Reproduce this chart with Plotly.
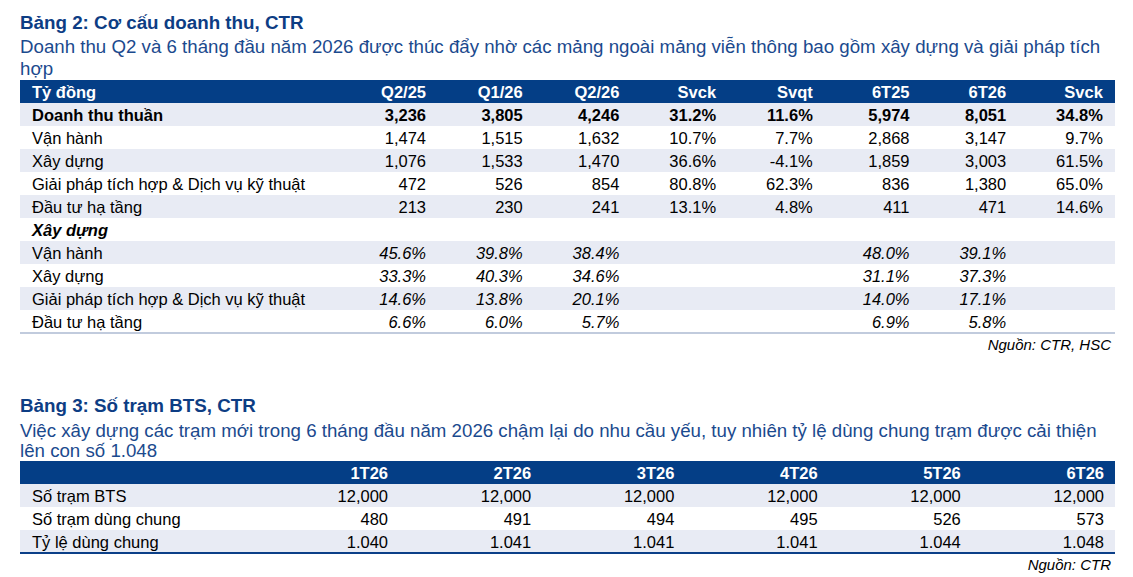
import plotly.graph_objects as go

# ---------------- data: Bảng 2 ----------------
t2_title = "Bảng 2: Cơ cấu doanh thu, CTR"
t2_subtitle = [
    "Doanh thu Q2 và 6 tháng đầu năm 2026 được thúc đẩy nhờ các mảng ngoài mảng viễn thông bao gồm xây dựng và giải pháp tích",
    "hợp",
]
t2_unit = "Tỷ đồng"
t2_columns = ["Q2/25", "Q1/26", "Q2/26", "Svck", "Svqt", "6T25", "6T26", "Svck"]
t2_total_label = "Doanh thu thuần"
t2_segments = ["Vận hành", "Xây dựng", "Giải pháp tích hợp & Dịch vụ kỹ thuật", "Đầu tư hạ tầng"]
t2_share_label = "Xây dựng"

# revenue rows: total first, then the four segments
rev_q2_25 = [3236, 1474, 1076, 472, 213]
rev_q1_26 = [3805, 1515, 1533, 526, 230]
rev_q2_26 = [4246, 1632, 1470, 854, 241]
rev_svck_q = [31.2, 10.7, 36.6, 80.8, 13.1]
rev_svqt = [11.6, 7.7, -4.1, 62.3, 4.8]
rev_6t25 = [5974, 2868, 1859, 836, 411]
rev_6t26 = [8051, 3147, 3003, 1380, 471]
rev_svck_6t = [34.8, 9.7, 61.5, 65.0, 14.6]

# share rows (%)
share_q2_25 = [45.6, 33.3, 14.6, 6.6]
share_q1_26 = [39.8, 40.3, 13.8, 6.0]
share_q2_26 = [38.4, 34.6, 20.1, 5.7]
share_6t25 = [48.0, 31.1, 14.0, 6.9]
share_6t26 = [39.1, 37.3, 17.1, 5.8]

t2_source = "Nguồn: CTR, HSC"

# ---------------- data: Bảng 3 ----------------
t3_title = "Bảng 3: Số trạm BTS, CTR"
t3_subtitle = [
    "Việc xây dựng các trạm mới trong 6 tháng đầu năm 2026 chậm lại do nhu cầu yếu, tuy nhiên tỷ lệ dùng chung trạm được cải thiện",
    "lên con số 1.048",
]
t3_months = ["1T26", "2T26", "3T26", "4T26", "5T26", "6T26"]
t3_row_labels = ["Số trạm BTS", "Số trạm dùng chung", "Tỷ lệ dùng chung"]
bts_total = [12000, 12000, 12000, 12000, 12000, 12000]
bts_shared = [480, 491, 494, 495, 526, 573]
bts_ratio = [1.040, 1.041, 1.041, 1.041, 1.044, 1.048]
t3_source = "Nguồn: CTR"

# ---------------- layout / style constants ----------------
W, H = 1133, 577
PAGE_OFF = 8          # default body margin of the html page
FONT = "Liberation Sans, Arial, sans-serif"
BODY = 16.5
TITLE_SIZE = 18.8
SUB_SIZE = 18.7
SRC_SIZE = 15
TITLE_COLOR = "#0d3d84"
SUB_COLOR = "#1b4a8e"
HEAD_FILL = "#043e86"
STRIPE = "#e8ebf4"
TEXT = "#000000"

X0, X1 = 20, 1115
LABEL_X = 32
ROW_H = 23
T2_TOP = 80
T3_TOP = 461
T2_COL_RIGHT = [426 + 96.7 * k for k in range(len(t2_columns))]
T3_COL_RIGHT = [388 + 143.2 * k for k in range(len(t3_months))]
T2_DY = 2.0
T3_DY = 2.5


def fmt_int(v):
    return f"{v:,.0f}"


def fmt_pct(v):
    return f"{v:.1f}%"


def fmt_ratio(v):
    return f"{v:.3f}"


traces = []
shapes = []


def text_trace(xs, ys, texts, size=BODY, color=TEXT, pos="middle left"):
    traces.append(go.Scatter(
        x=xs, y=ys, text=texts, mode="text", textposition=pos,
        textfont=dict(family=FONT, size=size, color=color),
        hoverinfo="skip", showlegend=False, cliponaxis=False,
    ))


def y_for_baseline(b, size):
    # scatter 'middle' text puts the baseline 0.25*size below the point
    return b - 0.25 * size


def rect(y0, y1, fill):
    shapes.append(dict(type="rect", xref="x", yref="y", x0=X0, x1=X1, y0=y0, y1=y1,
                       fillcolor=fill, line=dict(width=0), layer="below"))


# ---------------- Bảng 2 ----------------
text_trace([X0], [y_for_baseline(29, TITLE_SIZE)], [f"<b>{t2_title}</b>"],
           size=TITLE_SIZE, color=TITLE_COLOR, pos="middle right")
text_trace([X0, X0], [y_for_baseline(53, SUB_SIZE), y_for_baseline(75, SUB_SIZE)], t2_subtitle,
           size=SUB_SIZE, color=SUB_COLOR, pos="middle right")

t2_labels = ([f"<b>{t2_total_label}</b>"] + t2_segments + [f"<b><i>{t2_share_label}</i></b>"] + t2_segments)
n2 = len(t2_labels)
rect(T2_TOP, T2_TOP + ROW_H, HEAD_FILL)
for i in range(n2):
    if i % 2 == 0:
        rect(T2_TOP + ROW_H * (i + 1), T2_TOP + ROW_H * (i + 2), STRIPE)
shapes.append(dict(type="line", xref="x", yref="y", x0=X0, x1=X1,
                   y0=T2_TOP + ROW_H * (n2 + 1), y1=T2_TOP + ROW_H * (n2 + 1),
                   line=dict(color="#8398bc", width=1.2)))

row_y2 = [T2_TOP + ROW_H * (i + 0.5) + T2_DY for i in range(n2 + 1)]

# header
text_trace([LABEL_X], [row_y2[0]], [f"<b>{t2_unit}</b>"], color="white", pos="middle right")
text_trace(T2_COL_RIGHT, [row_y2[0]] * len(t2_columns), [f"<b>{c}</b>" for c in t2_columns], color="white")
# labels
text_trace([LABEL_X] * n2, row_y2[1:], t2_labels, pos="middle right")

rev_cols = [(rev_q2_25, fmt_int), (rev_q1_26, fmt_int), (rev_q2_26, fmt_int), (rev_svck_q, fmt_pct),
            (rev_svqt, fmt_pct), (rev_6t25, fmt_int), (rev_6t26, fmt_int), (rev_svck_6t, fmt_pct)]
share_cols = {0: share_q2_25, 1: share_q1_26, 2: share_q2_26, 5: share_6t25, 6: share_6t26}
for k, (vals, f) in enumerate(rev_cols):
    txt = [f"<b>{f(vals[0])}</b>"] + [f(v) for v in vals[1:]]
    ys = row_y2[1:1 + len(vals)]
    if k in share_cols:
        sv = share_cols[k]
        txt += [f"<i>{fmt_pct(v)}</i>" for v in sv]
        ys += row_y2[2 + len(vals):2 + len(vals) + len(sv)]
    text_trace([T2_COL_RIGHT[k]] * len(txt), ys, txt)

text_trace([1111], [y_for_baseline(350, SRC_SIZE)], [f"<i>{t2_source}</i>"], size=SRC_SIZE)

# ---------------- Bảng 3 ----------------
text_trace([X0], [y_for_baseline(412, TITLE_SIZE)], [f"<b>{t3_title}</b>"],
           size=TITLE_SIZE, color=TITLE_COLOR, pos="middle right")
text_trace([X0, X0], [y_for_baseline(437, SUB_SIZE), y_for_baseline(457, SUB_SIZE)], t3_subtitle,
           size=SUB_SIZE, color=SUB_COLOR, pos="middle right")

n3 = len(t3_row_labels)
rect(T3_TOP, T3_TOP + ROW_H, HEAD_FILL)
for i in range(n3):
    if i % 2 == 0:
        rect(T3_TOP + ROW_H * (i + 1), T3_TOP + ROW_H * (i + 2), STRIPE)
shapes.append(dict(type="line", xref="x", yref="y", x0=X0, x1=X1,
                   y0=T3_TOP + ROW_H * (n3 + 1), y1=T3_TOP + ROW_H * (n3 + 1),
                   line=dict(color="#0b3f88", width=2)))

row_y3 = [T3_TOP + ROW_H * (i + 0.5) + T3_DY for i in range(n3 + 1)]
text_trace(T3_COL_RIGHT, [row_y3[0]] * len(t3_months), [f"<b>{m}</b>" for m in t3_months], color="white")
text_trace([LABEL_X] * n3, row_y3[1:], t3_row_labels, pos="middle right")
for k in range(len(t3_months)):
    txt = [fmt_int(bts_total[k]), fmt_int(bts_shared[k]), fmt_ratio(bts_ratio[k])]
    text_trace([T3_COL_RIGHT[k]] * 3, row_y3[1:], txt)

text_trace([1111], [y_for_baseline(570, SRC_SIZE)], [f"<i>{t3_source}</i>"], size=SRC_SIZE)

fig = go.Figure(traces)
fig.update_layout(
    width=W - PAGE_OFF, height=H - PAGE_OFF, margin=dict(l=0, r=0, t=0, b=0),
    paper_bgcolor="white", plot_bgcolor="white",
    xaxis=dict(range=[PAGE_OFF, W], visible=False, fixedrange=True),
    yaxis=dict(range=[H, PAGE_OFF], visible=False, fixedrange=True),
    shapes=shapes, showlegend=False,
)
fig.write_html("out.html", config={"displayModeBar": False})
